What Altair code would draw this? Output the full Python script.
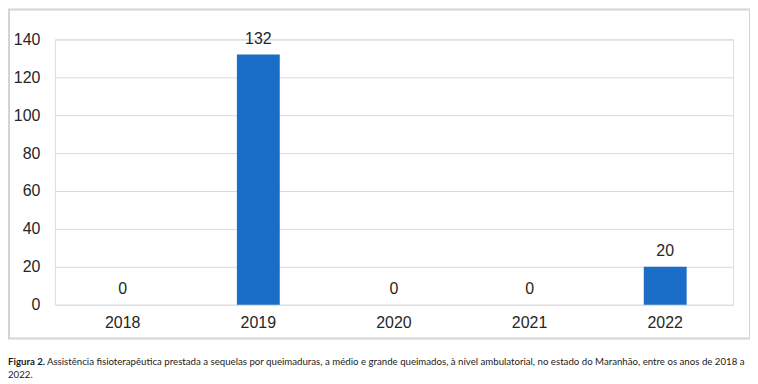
import altair as alt
import pandas as pd

years = ["2018", "2019", "2020", "2021", "2022"]
values = [0, 132, 0, 0, 20]
y_ticks = [0, 20, 40, 60, 80, 100, 120, 140]
caption_bold = "Figura 2."
caption_line1 = ("Assistência fisioterapêutica prestada a sequelas por queimaduras, a médio e grande queimados, "
                 "à nível ambulatorial, no estado do Maranhão, entre os anos de 2018 a")
caption_line2 = "2022."

df = pd.DataFrame({"year": years, "value": values})
one = pd.DataFrame({"k": [0]})

BAR = "#1b6ec8"
FONT = "Liberation Sans"
CAP_FONT = "Lato"
CAP_SIZE = 9.7

x_enc = alt.X("year:N", sort=years, title=None,
              scale=alt.Scale(paddingInner=0, paddingOuter=0),
              axis=alt.Axis(labelAngle=0, labelFontSize=16, labelFont=FONT, labelColor="#262626",
                            labelPadding=10, ticks=False, domain=False, grid=False))
y_enc = alt.Y("value:Q", title=None, scale=alt.Scale(domain=[0, 140], nice=False),
              axis=alt.Axis(values=y_ticks, tickCount=8, labelFontSize=16, labelFont=FONT,
                            labelColor="#262626", labelPadding=15, labelOverlap=False, ticks=False,
                            domain=False, grid=True, gridColor="#d9d9d9", gridWidth=1))

base = alt.Chart(df)
bars = base.mark_bar(color=BAR, size=43).encode(x=x_enc, y=y_enc)
labels = base.mark_text(dy=-16, fontSize=16, font=FONT, color="#262626", baseline="middle").encode(
    x=x_enc, y=y_enc, text="value:Q")

border = alt.Chart(one).mark_rect(filled=False, stroke="#d4d4d4", strokeWidth=2).encode(
    x=alt.value(-46), x2=alt.value(697), y=alt.value(-30), y2=alt.value(300))

cap_b = alt.Chart(one).mark_text(text=caption_bold, align="left", baseline="middle", fontSize=CAP_SIZE,
                                 font=CAP_FONT, fontWeight="bold", color="#1a1a1a").encode(
    x=alt.value(-47), y=alt.value(323))
cap_1 = alt.Chart(one).mark_text(text=caption_line1, align="left", baseline="middle", fontSize=CAP_SIZE,
                                 font=CAP_FONT, color="#1a1a1a").encode(
    x=alt.value(-8), y=alt.value(323))
cap_2 = alt.Chart(one).mark_text(text=caption_line2, align="left", baseline="middle", fontSize=CAP_SIZE,
                                 font=CAP_FONT, color="#1a1a1a").encode(
    x=alt.value(-47), y=alt.value(336))

chart = alt.layer(bars, labels, border, cap_b, cap_1, cap_2).properties(
    width=680, height=266,
    autosize=alt.AutoSizeParams(type="none"),
    padding={"left": 47, "top": 31, "right": 17, "bottom": 79},
).configure_view(stroke=None).configure(background="white")

chart.save("out.html", embed_options={"renderer": "svg", "actions": False})
